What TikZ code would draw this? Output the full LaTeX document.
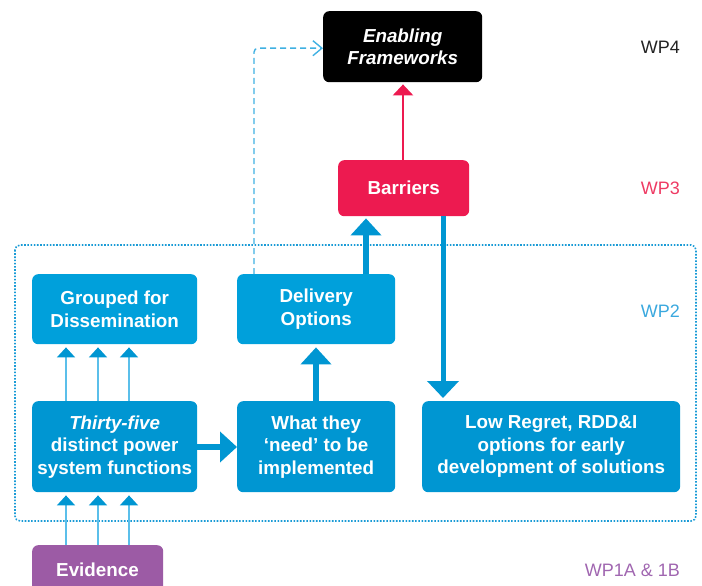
\documentclass[tikz,border=0pt]{standalone}
\usepackage{fontspec}
\setmainfont{Liberation Sans}
\usetikzlibrary{arrows.meta,calc}
\definecolor{boxblue}{HTML}{0096D2}
\definecolor{topblue}{HTML}{00A0DB}
\definecolor{barred}{HTML}{ED1A50}
\definecolor{evpurple}{HTML}{9C5BA5}
\definecolor{lightblue}{HTML}{5BBFEA}
\definecolor{dashblue}{HTML}{3FB0E2}
\definecolor{framblue}{HTML}{1A9BD6}
\definecolor{wptwo}{HTML}{3AA8DE}
\definecolor{wpthree}{HTML}{EE3A63}
\definecolor{wpone}{HTML}{A066B0}
\definecolor{wpfour}{HTML}{222222}
\tikzset{
  boxstyle/.style={rounded corners=6pt, text=white, align=center, anchor=north west,
    inner sep=0pt, font=\bfseries\fontsize{18.8}{22.5}\selectfont},
  thickarrow/.style={boxblue, line width=6pt, -{Triangle[width=30pt,length=17pt]}},
  thinarrow/.style={lightblue, line width=1.5pt, -{Triangle[width=18pt,length=10pt,color=boxblue]}},
  wplabel/.style={anchor=east, inner sep=0pt, font=\fontsize{18}{21}\selectfont},
}
\begin{document}
\begin{tikzpicture}[x=1pt,y=-1pt]
\useasboundingbox (0,0) rectangle (702,586);
\clip (0,0) rectangle (702,586);

% dotted WP2 frame
\draw[framblue, line width=1.6pt, dash pattern=on 1.6pt off 1.6pt, rounded corners=5pt]
  (15,245) rectangle (696,521);

% boxes
\node[boxstyle, fill=black, minimum width=159pt, minimum height=71pt,
  font=\bfseries\itshape\fontsize{18.8}{22.5}\selectfont] (enab) at (323,11) {Enabling\\Frameworks};
\node[boxstyle, fill=barred, minimum width=131pt, minimum height=56pt] (barr) at (338,160) {Barriers};
\node[boxstyle, fill=topblue, minimum width=165pt, minimum height=70pt] (group) at (32,274) {Grouped for\\Dissemination};
\node[boxstyle, fill=topblue, minimum width=158pt, minimum height=70pt] (deliv) at (237,274) {Delivery\\Options};
\node[boxstyle, fill=boxblue, minimum width=165pt, minimum height=91pt] (thirty) at (32,401) {\textit{Thirty-five}\\distinct power\\system functions};
\node[boxstyle, fill=boxblue, minimum width=158pt, minimum height=91pt] (need) at (237,401) {What they\\`need' to be\\implemented};
\node[boxstyle, fill=boxblue, minimum width=258pt, minimum height=91pt] (low) at (422,401) {Low Regret, RDD\&I\\options for early\\development of solutions};
\node[boxstyle, fill=evpurple, minimum width=131pt, minimum height=60pt] (evid) at (32,545) {};
\node[text=white, font=\bfseries\fontsize{18.8}{22.5}\selectfont, inner sep=0pt] (evtext) at (97.5,570) {Evidence};

% WP labels
\node[wplabel, text=wpfour] (wp4) at (680,47) {WP4};
\node[wplabel, text=wpthree] (wp3) at (680,188) {WP3};
\node[wplabel, text=wptwo] (wp2) at (680,311) {WP2};
\node[wplabel, text=wpone] (wp1) at (680,570) {WP1A \& 1B};

% helper x coordinates
\coordinate (c1) at (66,0);
\coordinate (c2) at (98,0);
\coordinate (c3) at (129,0);
\coordinate (cd) at (254,0);
\coordinate (cn) at (316,0);
\coordinate (cb) at (366,0);
\coordinate (cl) at (443,0);
\coordinate (cr) at (403,0);

% thin arrows
\foreach \c in {c1,c2,c3}{
  \draw[thinarrow, shorten >=3pt] (thirty.north -| \c) -- (group.south -| \c);
  \draw[thinarrow, shorten >=3pt] (evid.north -| \c) -- (thirty.south -| \c);
}

% thick arrows
\draw[thickarrow] (thirty.east |- 0,447) -- (need.west |- 0,447);
\draw[thickarrow, shorten >=3pt] (need.north -| cn) -- (deliv.south -| cn);
\draw[thickarrow, shorten >=2pt] (deliv.north -| cb) -- (barr.south -| cb);
\draw[boxblue, line width=5pt, -{Triangle[width=31pt,length=17pt]}, shorten >=3pt] (barr.south -| cl) -- (low.north -| cl);

% red arrow
\draw[barred, line width=2.5pt, -{Triangle[width=20pt,length=11pt]}, shorten >=2pt] (barr.north -| cr) -- (enab.south -| cr);

% dashed arrow
\draw[dashblue, line width=1.4pt, dash pattern=on 6pt off 4pt, rounded corners=4pt,
  -{Straight Barb[length=9pt,width=15pt,line width=1.4pt]}]
  (deliv.north -| cd) |- ($(enab.west)+(0,1.5)$);
\end{tikzpicture}
\end{document}
